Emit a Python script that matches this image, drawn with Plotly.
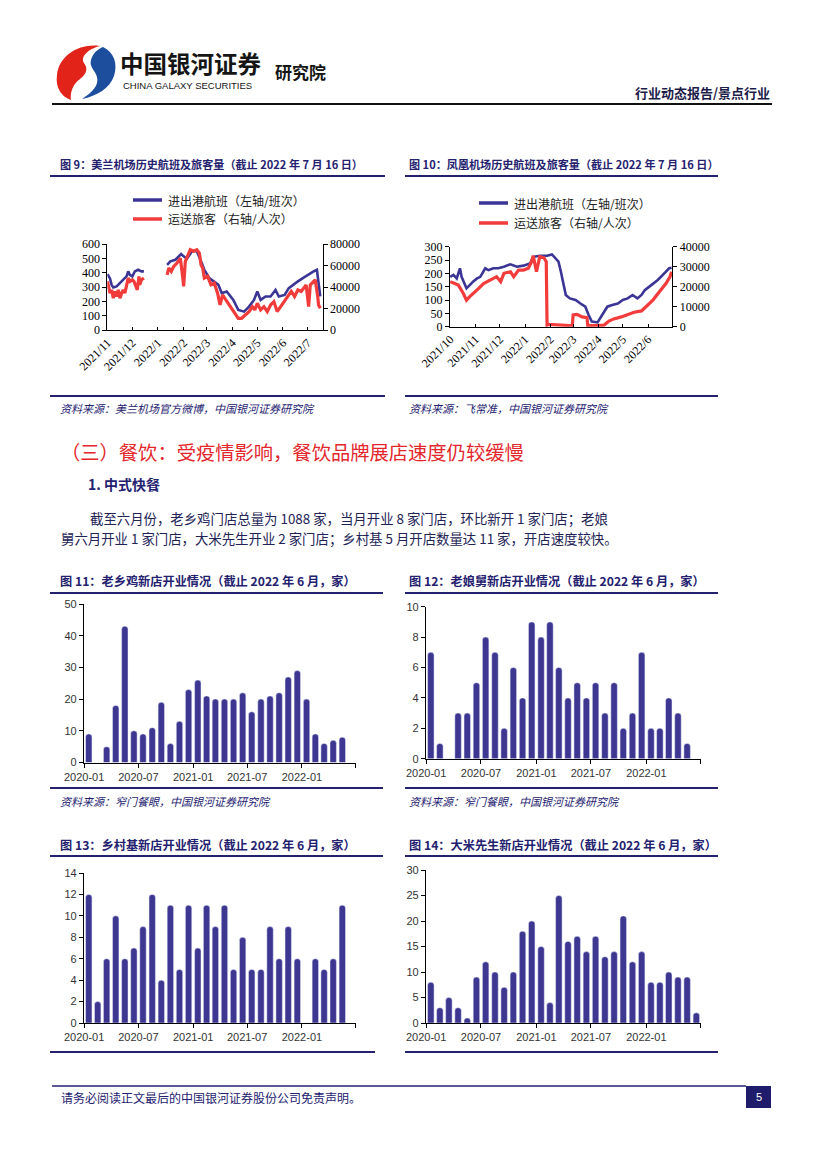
import plotly.graph_objects as go

W, H = 827, 1169
def X(p): return p / W
def Y(p): return 1 - p / H

NAVY = "#24216f"
BAR = "#3e3792"
BLUE = "#3b3596"
RED = "#f23b3b"
CJK = "Noto Sans CJK SC"
SERIF = "Liberation Serif"
SANS = "Liberation Sans"

# ---------------- Data ----------------
# Figure 9: Meilan airport (flights left axis, passengers right axis)
meilan_flight_dates = ["2021-11-01", "2021-11-04", "2021-11-06", "2021-11-08", "2021-11-12", "2021-11-16",
                       "2021-11-20", "2021-11-24", "2021-11-26", "2021-11-28", "2021-12-01", "2021-12-04",
                       "2021-12-08", "2021-12-12", "2021-12-15", "2021-12-30",
                       "2022-01-12", "2022-01-16", "2022-01-22", "2022-01-26", "2022-01-29", "2022-02-01",
                       "2022-02-05", "2022-02-11", "2022-02-17", "2022-02-22", "2022-02-26", "2022-03-04",
                       "2022-03-10", "2022-03-15", "2022-03-19", "2022-03-25", "2022-04-02", "2022-04-08",
                       "2022-04-15", "2022-04-21", "2022-04-27", "2022-05-01", "2022-05-05", "2022-05-11",
                       "2022-05-17", "2022-05-23", "2022-05-27", "2022-06-03", "2022-06-08", "2022-06-13",
                       "2022-06-19", "2022-06-25", "2022-07-02", "2022-07-08", "2022-07-12", "2022-07-14",
                       "2022-07-16"]
meilan_flights = [390, 360, 315, 297, 304, 327, 350, 374, 409, 385, 374, 409, 420, 409, 409, None,
                  455, 479, 490, 514, 530, 514, 497, 549, 549, 479, 420, 362, 339, 315, 257, 269,
                  210, 140, 128, 163, 210, 269, 210, 234, 234, 280, 234, 245, 292, 315, 339, 362,
                  390, 409, 420, 339, 234]

meilan_pax_dates = ["2021-11-01", "2021-11-04", "2021-11-06", "2021-11-08", "2021-11-10", "2021-11-12",
                    "2021-11-14", "2021-11-16", "2021-11-18", "2021-11-20", "2021-11-22", "2021-11-24",
                    "2021-11-26", "2021-11-28", "2021-12-01", "2021-12-03", "2021-12-05", "2021-12-07",
                    "2021-12-09", "2021-12-10", "2021-12-12", "2021-12-15", "2021-12-30",
                    "2022-01-12", "2022-01-14", "2022-01-17", "2022-01-20", "2022-01-24", "2022-01-28",
                    "2022-01-31", "2022-02-01", "2022-02-03", "2022-02-06", "2022-02-09", "2022-02-13",
                    "2022-02-17", "2022-02-20", "2022-02-22", "2022-02-24", "2022-02-26", "2022-03-02",
                    "2022-03-06", "2022-03-10", "2022-03-14", "2022-03-17", "2022-03-20", "2022-03-24",
                    "2022-03-28", "2022-04-04", "2022-04-08", "2022-04-12", "2022-04-17", "2022-04-21",
                    "2022-04-25", "2022-04-28", "2022-05-01", "2022-05-05", "2022-05-09", "2022-05-13",
                    "2022-05-17", "2022-05-21", "2022-05-25", "2022-05-29", "2022-06-03", "2022-06-07",
                    "2022-06-11", "2022-06-15", "2022-06-19", "2022-06-23", "2022-06-27", "2022-06-29",
                    "2022-07-02", "2022-07-04", "2022-07-08", "2022-07-10", "2022-07-13", "2022-07-14",
                    "2022-07-16"]
meilan_pax = [45200, 34300, 37300, 29600, 35900, 31200, 37300, 29600, 34300, 37300, 34300, 42000,
              48300, 45200, 46700, 45200, 40500, 37300, 49900, 42000, 46700, 48300, None,
              51300, 57600, 54500, 59200, 62300, 66900, 48300, 40500, 63900, 70000, 74700, 73200,
              74700, 71600, 60700, 57600, 48300, 49900, 42000, 43600, 34300, 23300, 32700, 28000,
              23300, 15600, 10900, 10900, 14000, 17100, 21700, 18700, 24900, 18700, 21700, 17100,
              23300, 26400, 17100, 21700, 26400, 31200, 35900, 31200, 37300, 35900, 40500, 42000,
              21700, 42000, 45200, 46700, 31200, 23300, 20300]

# Figure 10: Phoenix airport
phoenix_flight_dates = ["2021-10-01", "2021-10-05", "2021-10-09", "2021-10-13", "2021-10-15", "2021-10-19",
                        "2021-10-21", "2021-10-25", "2021-10-29", "2021-11-03", "2021-11-07", "2021-11-13",
                        "2021-11-17", "2021-11-23", "2021-11-29", "2021-12-06", "2021-12-14", "2021-12-22",
                        "2021-12-30", "2022-01-07", "2022-01-11", "2022-01-19", "2022-01-28", "2022-02-03",
                        "2022-02-07", "2022-02-11", "2022-02-14", "2022-02-17", "2022-02-20", "2022-02-25",
                        "2022-03-04", "2022-03-10", "2022-03-16", "2022-03-20", "2022-03-24", "2022-03-31",
                        "2022-04-06", "2022-04-12", "2022-04-18", "2022-04-25", "2022-05-01", "2022-05-07",
                        "2022-05-13", "2022-05-19", "2022-05-24", "2022-05-28", "2022-06-05", "2022-06-13",
                        "2022-06-21", "2022-06-27", "2022-06-30"]
phoenix_flights = [187, 194, 181, 219, 187, 162, 144, 156, 169, 181, 187, 219, 212, 219, 219, 225, 234,
                   225, 229, 237, 262, 266, 266, 271, 259, 244, 206, 156, 119, 106, 100, 87, 75, 44, 19,
                   16, 44, 75, 81, 87, 100, 106, 119, 106, 119, 137, 156, 175, 200, 219, 221]

phoenix_pax_dates = ["2021-10-01", "2021-10-07", "2021-10-11", "2021-10-17", "2021-10-21", "2021-10-25",
                     "2021-10-29", "2021-11-05", "2021-11-11", "2021-11-19", "2021-11-27", "2021-12-02",
                     "2021-12-06", "2021-12-14", "2021-12-18", "2021-12-24", "2021-12-30", "2022-01-05",
                     "2022-01-09", "2022-01-11", "2022-01-15", "2022-01-19", "2022-01-24", "2022-01-27",
                     "2022-01-28", "2022-01-30", "2022-02-09", "2022-02-25", "2022-02-28", "2022-03-01",
                     "2022-03-06", "2022-03-12", "2022-03-18", "2022-03-19", "2022-03-31", "2022-04-08",
                     "2022-04-14", "2022-04-20", "2022-04-29", "2022-05-07", "2022-05-15", "2022-05-24",
                     "2022-05-30", "2022-06-07", "2022-06-15", "2022-06-23", "2022-06-28", "2022-06-30"]
phoenix_pax = [22500, 21600, 20800, 16700, 13300, 15000, 16700, 19200, 21600, 23300, 25000, 22500,
               26700, 27500, 25000, 28300, 28300, 29200, 32500, 35500, 27500, 35000, 34500, 32500,
               800, 1200, 800, 500, 600, 5900, 6100, 4900, 4500, 500, 500, 800, 2800, 3900, 4900,
               6100, 7200, 7900, 10000, 13300, 17500, 21600, 24900, 27500]

# Figures 11-14: monthly new store openings
months = ["2020-01", "2020-02", "2020-03", "2020-04", "2020-05", "2020-06", "2020-07", "2020-08",
          "2020-09", "2020-10", "2020-11", "2020-12", "2021-01", "2021-02", "2021-03", "2021-04",
          "2021-05", "2021-06", "2021-07", "2021-08", "2021-09", "2021-10", "2021-11", "2021-12",
          "2022-01", "2022-02", "2022-03", "2022-04", "2022-05", "2022-06"]
laoxiangji = [9, 0, 5, 18, 43, 10, 9, 11, 19, 6, 13, 23, 26, 21, 20, 20, 20, 22, 16, 20, 21, 22, 27,
              29, 20, 9, 6, 7, 8, None]
laoniangjiu = [7, 1, 0, 3, 3, 5, 8, 7, 2, 6, 4, 9, 8, 9, 6, 4, 5, 4, 5, 3, 5, 2, 3, 7, 2, 2, 4, 3,
               1, None]
xiangcunji = [12, 2, 6, 10, 6, 7, 9, 12, 4, 11, 5, 11, 7, 11, 9, 11, 5, 8, 5, 5, 9, 6, 9, 6, 0, 6,
              5, 6, 11, None]
damixiansheng = [8, 3, 5, 3, 1, 9, 12, 10, 7, 10, 18, 20, 15, 4, 25, 16, 17, 14, 17, 13, 14, 21, 12,
                 14, 8, 8, 10, 9, 9, 2]
bar_tickvals = ["2020-01-01", "2020-07-01", "2021-01-01", "2021-07-01", "2022-01-01", "2022-07-01"]
bar_ticktext = ["2020-01", "2020-07", "2021-01", "2021-07", "2022-01", ""]

# ---------------- Figure ----------------
fig = go.Figure()

fig.add_trace(go.Scatter(x=meilan_flight_dates, y=meilan_flights, mode="lines", name="进出港航班（左轴/班次）",
                         line=dict(color=BLUE, width=2.6), xaxis="x", yaxis="y", connectgaps=False))
fig.add_trace(go.Scatter(x=meilan_pax_dates, y=meilan_pax, mode="lines", name="运送旅客（右轴/人次）",
                         line=dict(color=RED, width=3.2), xaxis="x", yaxis="y2", connectgaps=False))
fig.add_trace(go.Scatter(x=phoenix_flight_dates, y=phoenix_flights, mode="lines", name="进出港航班（左轴/班次）",
                         line=dict(color=BLUE, width=2.6), xaxis="x2", yaxis="y3"))
fig.add_trace(go.Scatter(x=phoenix_pax_dates, y=phoenix_pax, mode="lines", name="运送旅客（右轴/人次）",
                         line=dict(color=RED, width=3.2), xaxis="x2", yaxis="y4"))

for i, (vals, name) in enumerate([(laoxiangji, "老乡鸡"), (laoniangjiu, "老娘舅"),
                                   (xiangcunji, "乡村基"), (damixiansheng, "大米先生")]):
    fig.add_trace(go.Bar(x=months, y=vals, name=name, marker=dict(color=BAR, cornerradius=3),
                         xperiod="M1", xperiodalignment="middle",
                         xaxis="x%d" % (i + 3), yaxis="y%d" % (i + 5)))

line_ax = dict(showline=True, linecolor="black", linewidth=1, showgrid=False, zeroline=False, automargin=False,
               tickfont=dict(family=SERIF, size=12, color="black"), ticklen=4, tickcolor="black")
bar_ax = dict(showline=True, linecolor="black", linewidth=1.2, showgrid=False, zeroline=False, automargin=False,
              tickfont=dict(family=SANS, size=11, color="#333333"), ticks="outside", ticklen=4,
              tickcolor="black")

layout_axes = {}
# Figure 9 axes
layout_axes["xaxis"] = dict(line_ax, domain=[X(107.3), X(322.7)], anchor="y", type="date",
                            range=["2021-10-31 18:00", "2022-07-19"], tick0="2021-11-01", dtick="M1",
                            tickformat="%Y/%-m", tickangle=-45, ticks="inside", ticklen=3)
layout_axes["yaxis"] = dict(line_ax, domain=[Y(330), Y(244)], anchor="x", range=[0, 600], dtick=100,
                            ticks="outside")
layout_axes["yaxis2"] = dict(line_ax, overlaying="y", side="right", anchor="x", range=[0, 80000],
                             dtick=20000, ticks="outside", tickformat="d")
# Figure 10 axes
layout_axes["xaxis2"] = dict(line_ax, domain=[X(450), X(672.3)], anchor="y3", type="date",
                             range=["2021-09-30 18:00", "2022-06-30 20:00"], tick0="2021-10-01", dtick="M1",
                             tickformat="%Y/%-m", tickangle=-45, ticks="inside", ticklen=3)
layout_axes["yaxis3"] = dict(line_ax, domain=[Y(326.7), Y(246.7)], anchor="x2", range=[0, 300], dtick=50,
                             ticks="outside")
layout_axes["yaxis4"] = dict(line_ax, overlaying="y3", side="right", anchor="x2", range=[0, 40000],
                             dtick=10000, ticks="outside", tickformat="d")
# Bar chart axes
bar_boxes = [((84, 356), (762.5, 604), 50, 10),
             ((426, 701), (758.7, 606.7), 10, 2),
             ((84, 356), (1023, 873), 14, 2),
             ((426, 701), (1023, 870), 30, 5)]
for i, ((x0, x1), (yb, yt), ymax, dt) in enumerate(bar_boxes):
    layout_axes["xaxis%d" % (i + 3)] = dict(bar_ax, domain=[X(x0), X(x1)], anchor="y%d" % (i + 5),
                                            type="date", range=["2019-12-31 12:00", "2022-07-01 12:00"],
                                            tickvals=bar_tickvals, ticktext=bar_ticktext)
    layout_axes["yaxis%d" % (i + 5)] = dict(bar_ax, domain=[Y(yb), Y(yt)], anchor="x%d" % (i + 3),
                                            range=[0, ymax], dtick=dt)

shapes = []
annotations = []

def hline(x0, x1, y, color=NAVY, width=2):
    shapes.append(dict(type="line", xref="paper", yref="paper", x0=X(x0), x1=X(x1), y0=Y(y), y1=Y(y),
                       line=dict(color=color, width=width)))

def text(x, y, s, size, color="#111111", bold=False, italic=False, family=CJK, xanchor="left"):
    annotations.append(dict(xref="paper", yref="paper", x=X(x), y=Y(y), text=s, showarrow=False,
                            xanchor=xanchor, yanchor="middle", borderpad=0,
                            font=dict(family=family, size=size, color=color,
                                      weight="bold" if bold else "normal",
                                      style="italic" if italic else "normal")))

def path(cmds):
    out = []
    for c, pts in cmds:
        coords = []
        for k in range(0, len(pts), 2):
            coords.append("%.5f,%.5f" % (X(pts[k]), Y(pts[k + 1])))
        out.append(c + " " + " ".join(coords))
    return " ".join(out) + " Z"

# Logo
shapes.append(dict(type="path", xref="paper", yref="paper", fillcolor="#e2231a", line=dict(width=0),
                   path=path([("M", [100, 46]), ("C", [80, 43, 59, 55, 57, 75]), ("C", [55, 88, 62, 97, 71, 100]),
                              ("C", [70, 92, 73, 84, 80, 79]), ("C", [87, 74, 88, 68, 84, 63]),
                              ("C", [80, 57, 88, 49, 100, 46])])))
shapes.append(dict(type="path", xref="paper", yref="paper", fillcolor="#1d4e9e", line=dict(width=0),
                   path=path([("M", [103, 47]), ("C", [114, 52, 118, 64, 114, 76]), ("C", [110, 88, 97, 96, 82, 99]),
                              ("C", [93, 92, 99, 85, 97, 77]), ("C", [95, 70, 89, 67, 91, 60]),
                              ("C", [93, 53, 98, 49, 103, 47])])))

# Header
text(119, 63, "中国银河证券", 23.5, "#151515", bold=True)
text(122, 86, "CHINA GALAXY SECURITIES", 9.5, "#151515", family=SANS)
text(274, 71, "研究院", 17, "#151515", bold=True)
text(771, 92, "行业动态报告/景点行业", 13, "#1c1c4a", bold=True, xanchor="right")
hline(52, 772, 104, "#111111", 2)

# Figure 9 / 10 frames
text(59, 164, "图 9：美兰机场历史航班及旅客量（截止 2022 年 7 月 16 日）", 11.1, NAVY, bold=True)
text(408, 164, "图 10：凤凰机场历史航班及旅客量（截止 2022 年 7 月 16 日）", 11.1, NAVY, bold=True)
hline(50, 385, 176); hline(405, 718, 176)
hline(50, 385, 396); hline(405, 718, 396)
text(59, 408, "资料来源：美兰机场官方微博，中国银河证券研究院", 11, NAVY, italic=True)
text(408, 408, "资料来源：飞常准，中国银河证券研究院", 11, NAVY, italic=True)

# Legends (manual)
for (lx0, lx1, ly, tx), lab, col in [((133, 162, 200, 167), "进出港航班（左轴/班次）", BLUE),
                                      ((133, 162, 219, 167), "运送旅客（右轴/人次）", RED),
                                      ((479, 508, 203, 513), "进出港航班（左轴/班次）", BLUE),
                                      ((479, 508, 223, 513), "运送旅客（右轴/人次）", RED)]:
    hline(lx0, lx1, ly, col, 3.5)
    text(tx, ly, lab, 12, "#222222")

# Section text
text(60, 452, "（三）餐饮：受疫情影响，餐饮品牌展店速度仍较缓慢", 19.3, "#e3262b")
text(87, 484, "1. 中式快餐", 14, NAVY, bold=True)
text(89, 518, "截至六月份，老乡鸡门店总量为 1088 家，当月开业 8 家门店，环比新开 1 家门店；老娘", 13.4, "#222255")
text(60, 538, "舅六月开业 1 家门店，大米先生开业 2 家门店；乡村基 5 月开店数量达 11 家，开店速度较快。", 13.4, "#222255")

# Figure 11-14 frames
text(59, 581, "图 11：老乡鸡新店开业情况（截止 2022 年 6 月，家）", 12.2, NAVY, bold=True)
text(408, 581, "图 12：老娘舅新店开业情况（截止 2022 年 6 月，家）", 12.2, NAVY, bold=True)
hline(50, 383, 593); hline(405, 718, 593)
hline(50, 383, 788); hline(405, 718, 788)
text(59, 801, "资料来源：窄门餐眼，中国银河证券研究院", 11, NAVY, italic=True)
text(408, 801, "资料来源：窄门餐眼，中国银河证券研究院", 11, NAVY, italic=True)
text(59, 845, "图 13：乡村基新店开业情况（截止 2022 年 6 月，家）", 12.2, NAVY, bold=True)
text(408, 845, "图 14：大米先生新店开业情况（截止 2022 年 6 月，家）", 12.2, NAVY, bold=True)
hline(50, 383, 856); hline(405, 718, 856)
hline(50, 375, 1052); hline(405, 718, 1052)

# Footer
hline(52, 746, 1086, NAVY, 1.5)
text(60, 1097, "请务必阅读正文最后的中国银河证券股份公司免责声明。", 12, NAVY)
shapes.append(dict(type="rect", xref="paper", yref="paper", x0=X(746), x1=X(771), y0=Y(1108), y1=Y(1086),
                   fillcolor="#1f1d6b", line=dict(width=0)))
text(758.5, 1097, "5", 11, "white", family=SANS, xanchor="center")

fig.update_layout(width=W, height=H, autosize=False, margin=dict(l=0, r=0, t=0, b=0, pad=0, autoexpand=False),
                  paper_bgcolor="white", plot_bgcolor="white", showlegend=False,
                  bargap=0.27, shapes=shapes, annotations=annotations, **layout_axes)

fig.write_html("out.html", config={"displayModeBar": False},
               post_script="document.body.style.margin='0';")
